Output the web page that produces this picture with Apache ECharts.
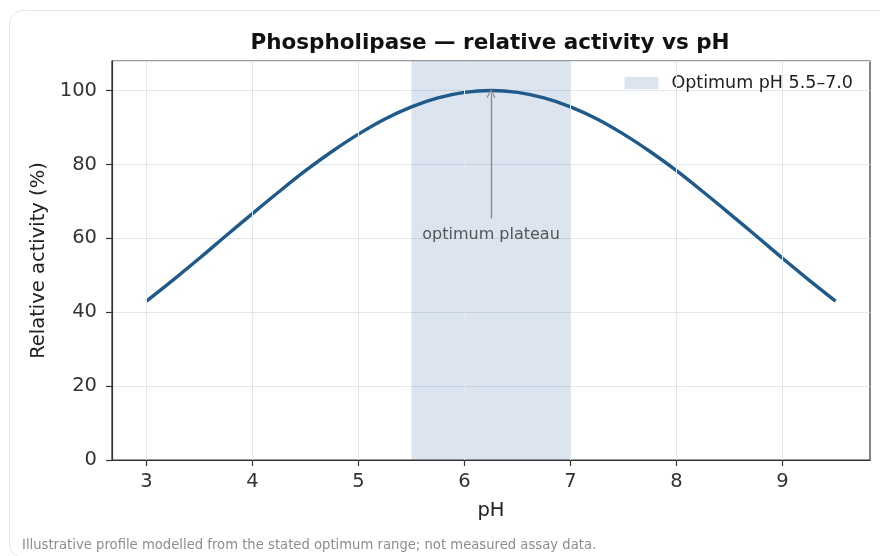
<!DOCTYPE html>
<html>
<head>
<meta charset="utf-8">
<script src="https://cdn.jsdelivr.net/npm/echarts@6/dist/echarts.min.js"></script>
<style>
  html, body { margin: 0; padding: 0; background: #ffffff; width: 880px; height: 556px; overflow: hidden; }
  #card { position: absolute; left: 9px; top: 10px; width: 900px; height: 548px; border: 1.5px solid #e3e6ea; border-radius: 14px; box-sizing: border-box; background: #fff; }
  #chart { position: absolute; left: 0; top: 0; width: 880px; height: 556px; }
</style>
</head>
<body>
<div id="card"></div>
<div id="chart"></div>
<script>
// ---- data ----
const phValues = [3, 3.25, 3.5, 3.75, 4, 4.25, 4.5, 4.75, 5, 5.25, 5.5, 5.75, 6, 6.25,
                  6.5, 6.75, 7, 7.25, 7.5, 7.75, 8, 8.25, 8.5, 8.75, 9, 9.25, 9.5];
const activity = [43.0, 48.7, 54.6, 60.7, 66.7, 72.6, 78.3, 83.5, 88.2, 92.3, 95.6, 98.0, 99.5, 100,
                  99.5, 98.0, 95.6, 92.3, 88.2, 83.5, 78.3, 72.6, 66.7, 60.7, 54.6, 48.7, 43.0];
const optimumRange = [5.5, 7.0];
const xTickValues = [3, 4, 5, 6, 7, 8, 9];
const arrowFrom = [6.25, 65.4];
const arrowTo = [6.25, 99.2];
const annotationText = 'optimum plateau';
const titleText = 'Phospholipase \u2014 relative activity vs pH';
const legendLabel = 'Optimum pH 5.5\u20137.0';
const footnote = 'Illustrative profile modelled from the stated optimum range; not measured assay data.';

const FONT = 'DejaVu Sans';
const bandColor = 'rgba(45,100,160,0.17)';
const gridColor = '#e3e6ec';
const ink = '#333333';

const chart = echarts.init(document.getElementById('chart'), null, { renderer: 'canvas' });
const curve = phValues.map((x, i) => [x, activity[i]]);

chart.setOption({
  animation: false,
  backgroundColor: 'transparent',
  textStyle: { fontFamily: FONT },
  title: {
    text: titleText,
    left: 490, top: 32, textAlign: 'center', padding: 0,
    textStyle: { fontFamily: FONT, fontSize: 21.5, fontWeight: 'bold', color: '#111' }
  },
  legend: {
    data: [{ name: legendLabel, icon: 'rect', itemStyle: { color: bandColor } }],
    right: 27, top: 74, padding: 0,
    itemWidth: 34, itemHeight: 12,
    textStyle: { fontFamily: FONT, fontSize: 17.5, color: '#222', padding: [0, 0, 0, 8] },
    selectedMode: false
  },
  grid: {
    left: 112, right: 10, top: 61, bottom: 96,
    show: true, borderColor: ink, borderWidth: 1.2, backgroundColor: 'transparent'
  },
  xAxis: {
    type: 'value', min: 2.675, max: 9.825,
    name: 'pH', nameLocation: 'middle', nameGap: 41,
    nameTextStyle: { fontFamily: FONT, fontSize: 19.5, color: '#222' },
    axisLine: { show: true, onZero: false, lineStyle: { color: ink, width: 1.2 } },
    axisTick: { show: true, length: 6, lineStyle: { color: ink, width: 1.2 }, customValues: xTickValues },
    axisLabel: { fontFamily: FONT, fontSize: 19.5, color: ink, margin: 12, customValues: xTickValues },
    splitLine: { show: false }
  },
  yAxis: {
    type: 'value', min: 0, max: 108, interval: 20,
    name: 'Relative activity (%)', nameLocation: 'middle', nameGap: 58,
    nameTextStyle: { fontFamily: FONT, fontSize: 19.5, color: '#222' },
    axisLine: { show: true, lineStyle: { color: ink, width: 1.2 } },
    axisTick: { show: true, length: 6, lineStyle: { color: ink, width: 1.2 } },
    axisLabel: { fontFamily: FONT, fontSize: 19.5, color: ink, margin: 15, showMaxLabel: false,
      formatter: v => (v % 20 === 0 ? String(v) : '') },
    splitLine: { show: true, lineStyle: { color: gridColor, width: 1 } }
  },
  graphic: [{
    type: 'text', left: 22, top: 539,
    style: { text: footnote, fontFamily: FONT, fontSize: 13.2, fill: '#8a8d91' }
  }],
  series: [
    {
      name: 'xgrid', type: 'line', data: [], z: 1, silent: true,
      markLine: {
        silent: true, symbol: ['none', 'none'], label: { show: false },
        lineStyle: { color: gridColor, width: 1, type: 'solid' },
        data: xTickValues.map(v => ({ xAxis: v }))
      }
    },
    {
      name: legendLabel, type: 'line', data: [], z: 1, silent: true,
      itemStyle: { color: bandColor }, lineStyle: { color: bandColor },
      markArea: {
        silent: true,
        itemStyle: { color: bandColor },
        data: [[{ xAxis: optimumRange[0] }, { xAxis: optimumRange[1] }]]
      }
    },
    {
      name: 'Relative activity', type: 'line', data: curve, z: 3,
      smooth: 0.3, showSymbol: false, symbol: 'none',
      lineStyle: { color: '#1f5a8a', width: 3.4 },
      itemStyle: { color: '#1f5a8a' }
    },
    {
      name: 'annotation', type: 'line', data: [], z: 4, silent: true,
      markLine: {
        silent: true,
        symbol: ['none', 'path://M5,0 L10,10 L8.8,10.6 L5,2.4 L1.2,10.6 L0,10 Z'],
        symbolSize: [9, 9],
        label: { show: false },
        lineStyle: { color: '#8a8a8a', width: 1.4, type: 'solid' },
        data: [[{ coord: arrowFrom }, { coord: arrowTo }]]
      },
      markPoint: {
        silent: true,
        symbol: 'circle', symbolSize: 1,
        itemStyle: { color: 'transparent' },
        label: { show: true, position: 'bottom', distance: 8, formatter: annotationText,
          fontFamily: FONT, fontSize: 16, color: '#555' },
        data: [{ coord: arrowFrom }]
      }
    }
  ]
});
</script>
</body>
</html>
